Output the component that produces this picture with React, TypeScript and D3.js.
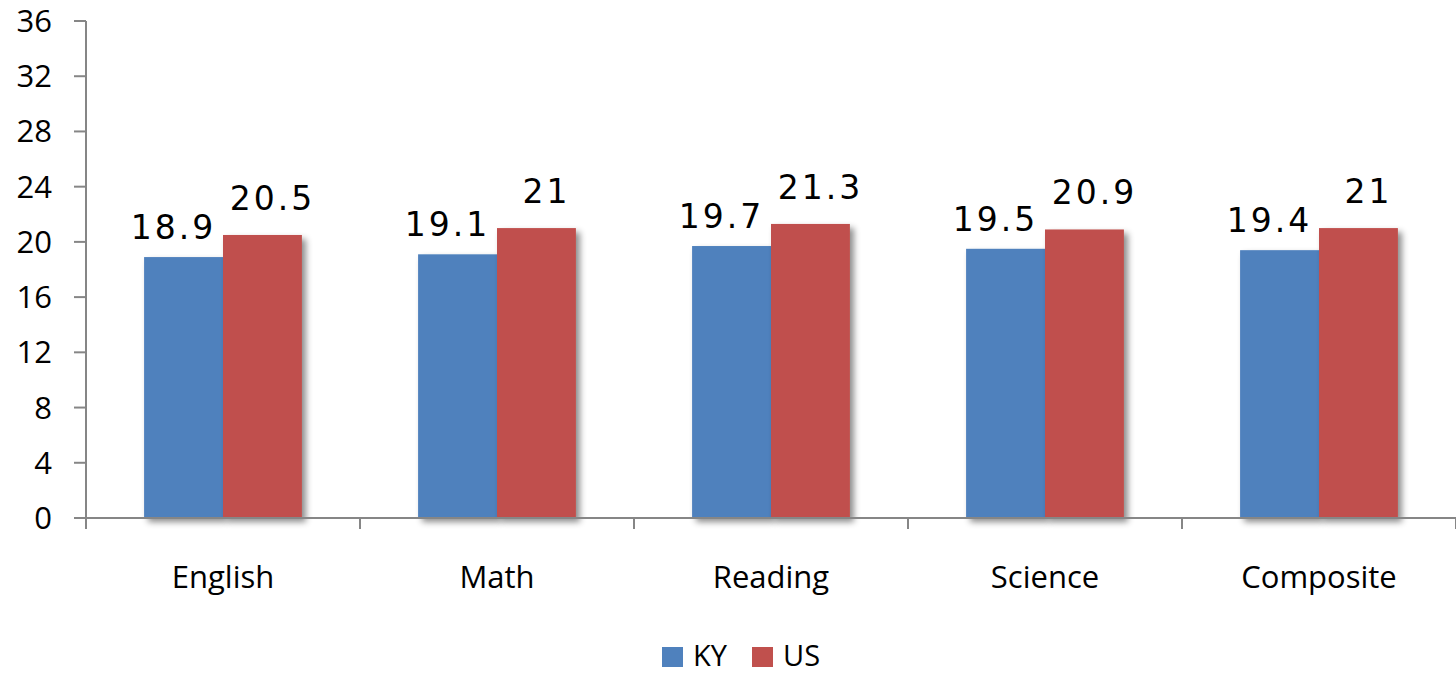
import React from "react";
import * as d3 from "d3";

const categories = ["English", "Math", "Reading", "Science", "Composite"];
const seriesNames = ["KY", "US"];
const kyValues = [18.9, 19.1, 19.7, 19.5, 19.4];
const usValues = [20.5, 21, 21.3, 20.9, 21];
const yTicks = [0, 4, 8, 12, 16, 20, 24, 28, 32, 36];

const COLORS: Record<string, string> = { KY: "#4F81BD", US: "#C0504D" };
const W = 1456;
const H = 674;
const TICK_FONT = "'Open Sans', 'Liberation Sans', sans-serif";
const LABEL_FONT = "'DejaVu Sans', Verdana, sans-serif";

export default function App() {
  const left = 86;
  const right = 1456;
  const top = 21;
  const bottom = 518;

  const y = d3.scaleLinear().domain([0, 36]).range([bottom, top]);
  const x0 = d3.scaleBand<string>().domain(categories).range([left, right]).padding(0);
  const bw = x0.bandwidth();
  const x1 = d3
    .scaleBand<string>()
    .domain(seriesNames)
    .range([bw * 0.212, bw * 0.788])
    .padding(0);

  const series = [
    { name: "KY", values: kyValues, dx: -10, dy: -18 },
    { name: "US", values: usValues, dx: 10, dy: -25 },
  ];

  const gridTicks = d3.range(categories.length + 1).map((i) => left + i * bw);

  return (
    <svg
      width={W}
      height={H}
      style={{ position: "absolute", left: 0, top: 0, display: "block", background: "#fff" }}
    >
      <defs>
        <filter id="shadow" x="-20%" y="-20%" width="150%" height="150%">
          <feDropShadow dx="4" dy="4" stdDeviation="3" floodColor="#000" floodOpacity="0.45" />
        </filter>
      </defs>

      {/* bars */}
      {categories.map((c, i) => (
        <g key={c} transform={`translate(${x0(c)},0)`}>
          {series.map((s) => (
            <rect
              key={s.name}
              x={x1(s.name)}
              y={y(s.values[i])}
              width={x1.bandwidth()}
              height={y(0) - y(s.values[i])}
              fill={COLORS[s.name]}
              filter="url(#shadow)"
            />
          ))}
        </g>
      ))}

      {/* axes */}
      <line x1={left} x2={left} y1={top} y2={bottom} stroke="#868686" strokeWidth={2} />
      <line x1={left} x2={right} y1={bottom} y2={bottom} stroke="#868686" strokeWidth={2} />
      {yTicks.map((t) => (
        <g key={t}>
          <line x1={left - 12} x2={left} y1={y(t)} y2={y(t)} stroke="#868686" strokeWidth={2} />
          <text
            x={52}
            y={y(t)}
            dy="0.355em"
            textAnchor="end"
            fontFamily={TICK_FONT}
            fontSize={31}
            fill="#000"
          >
            {t}
          </text>
        </g>
      ))}
      {gridTicks.map((gx, i) => (
        <line key={i} x1={gx} x2={gx} y1={bottom} y2={bottom + 11} stroke="#868686" strokeWidth={2} />
      ))}

      {/* category labels */}
      {categories.map((c) => (
        <text
          key={c}
          x={(x0(c) as number) + bw / 2}
          y={588}
          textAnchor="middle"
          fontFamily={TICK_FONT}
          fontSize={31}
          fill="#000"
        >
          {c}
        </text>
      ))}

      {/* value labels */}
      {categories.map((c, i) =>
        series.map((s) => (
          <text
            key={c + s.name}
            x={(x0(c) as number) + (x1(s.name) as number) + x1.bandwidth() / 2 + s.dx}
            y={y(s.values[i]) + s.dy}
            textAnchor="middle"
            fontFamily={LABEL_FONT}
            fontSize={33}
            letterSpacing={3}
            fill="#000"
          >
            {s.values[i]}
          </text>
        ))
      )}

      {/* legend */}
      {seriesNames.map((n, i) => (
        <g key={n} transform={`translate(${662 + i * 90},647)`}>
          <rect width={21} height={20} fill={COLORS[n]} />
          <text x={31} y={19} fontFamily={TICK_FONT} fontSize={29} fill="#000">
            {n}
          </text>
        </g>
      ))}
    </svg>
  );
}
